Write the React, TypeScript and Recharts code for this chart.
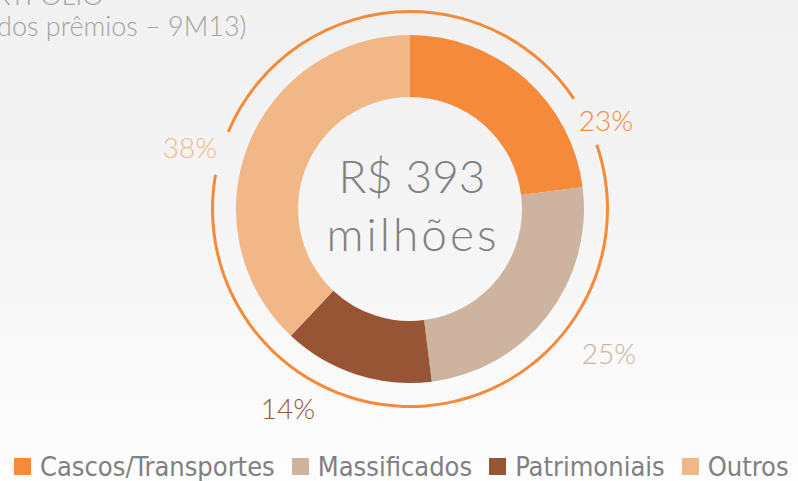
import { PieChart, Pie, Cell } from "recharts";

const CATEGORIES = ["Cascos/Transportes", "Massificados", "Patrimoniais", "Outros"];
const SHARES = [23, 25, 14, 38];
const COLORS = ["#F58A3A", "#CDB3A0", "#985535", "#F2B787"];
const TOTAL_LABEL = ["R$ 393", "milhões"];

// thin ring around the donut, arc spans in degrees clockwise from 12 o'clock
const RING_SPANS = [56, 15, 209, 13, 67];
const RING_VISIBLE = [true, false, true, false, true];

// where each percentage sits, relative to the pie centre
const LABEL_OFFSET: [number, number][] = [
  [196, -89],
  [199, 144],
  [-122, 199],
  [-220, -62],
];

const W = 798;
const H = 481;
const CX = 410;
const CY = 209;
const ORANGE = "#F58A3A";
const FONT = "Lato, 'Open Sans', sans-serif";

const sliceData = CATEGORIES.map((name, i) => ({ name, value: SHARES[i] }));
const ringData = RING_SPANS.map((value, i) => ({ name: `ring-${i}`, value }));

function PctLabel(props: { index?: number }) {
  const i = props.index ?? 0;
  const [dx, dy] = LABEL_OFFSET[i];
  return (
    <text
      x={CX + dx}
      y={CY + dy}
      textAnchor="middle"
      dominantBaseline="central"
      fill={COLORS[i]}
      fontSize={28}
      fontWeight={300}
      fontFamily={FONT}
    >
      {`${SHARES[i]}%`}
    </text>
  );
}

export default function App() {
  return (
    <div
      style={{
        position: "fixed",
        left: 0,
        top: 0,
        width: W,
        height: H,
        overflow: "hidden",
        background: "linear-gradient(#f1f1f1, #f4f4f4 40%, #fdfdfd)",
        fontFamily: FONT,
      }}
    >
      <div
        style={{
          position: "absolute",
          left: -3,
          top: -21,
          color: "#a3a3a3",
          fontSize: 27,
          fontWeight: 300,
          lineHeight: "31px",
          whiteSpace: "nowrap",
        }}
      >
        <div style={{ marginLeft: -40 }}>PORTFÓLIO</div>
        <div>dos prêmios – 9M13)</div>
      </div>

      <div style={{ position: "absolute", left: 0, top: 0 }}>
        <PieChart width={W} height={H} margin={{ top: 0, right: 0, bottom: 0, left: 0 }}>
          <Pie
            data={ringData}
            dataKey="value"
            cx={CX}
            cy={CY}
            innerRadius={196}
            outerRadius={199}
            startAngle={90}
            endAngle={-270}
            stroke="none"
            isAnimationActive={false}
          >
            {ringData.map((d, i) => (
              <Cell key={d.name} fill={RING_VISIBLE[i] ? ORANGE : "transparent"} />
            ))}
          </Pie>
          <Pie
            data={sliceData}
            dataKey="value"
            cx={CX}
            cy={CY}
            innerRadius={112}
            outerRadius={174}
            startAngle={90}
            endAngle={-270}
            stroke="none"
            label={PctLabel}
            labelLine={false}
            isAnimationActive={false}
          >
            {sliceData.map((d, i) => (
              <Cell key={d.name} fill={COLORS[i]} />
            ))}
          </Pie>
          <text
            x={CX + 2}
            y={193}
            textAnchor="middle"
            fill="#808080"
            fontSize={46}
            fontWeight={300}
            fontFamily={FONT}
          >
            {TOTAL_LABEL[0]}
          </text>
          <text
            x={CX + 3}
            y={251}
            textAnchor="middle"
            fill="#808080"
            fontSize={46}
            fontWeight={300}
            fontFamily={FONT}
            letterSpacing={3}
          >
            {TOTAL_LABEL[1]}
          </text>
        </PieChart>
      </div>

      <div
        style={{
          position: "absolute",
          left: 14,
          top: 451,
          display: "flex",
          alignItems: "center",
          fontFamily: "'Liberation Sans Narrow', 'DejaVu Sans Condensed', sans-serif",
          fontSize: 27,
          color: "#808080",
          whiteSpace: "nowrap",
        }}
      >
        {CATEGORIES.map((c, i) => (
          <div key={c} style={{ display: "flex", alignItems: "center", marginRight: 17 }}>
            <span
              style={{
                display: "inline-block",
                width: 17,
                height: 17,
                background: COLORS[i],
                marginRight: 9,
              }}
            />
            <span>{c}</span>
          </div>
        ))}
      </div>
    </div>
  );
}
